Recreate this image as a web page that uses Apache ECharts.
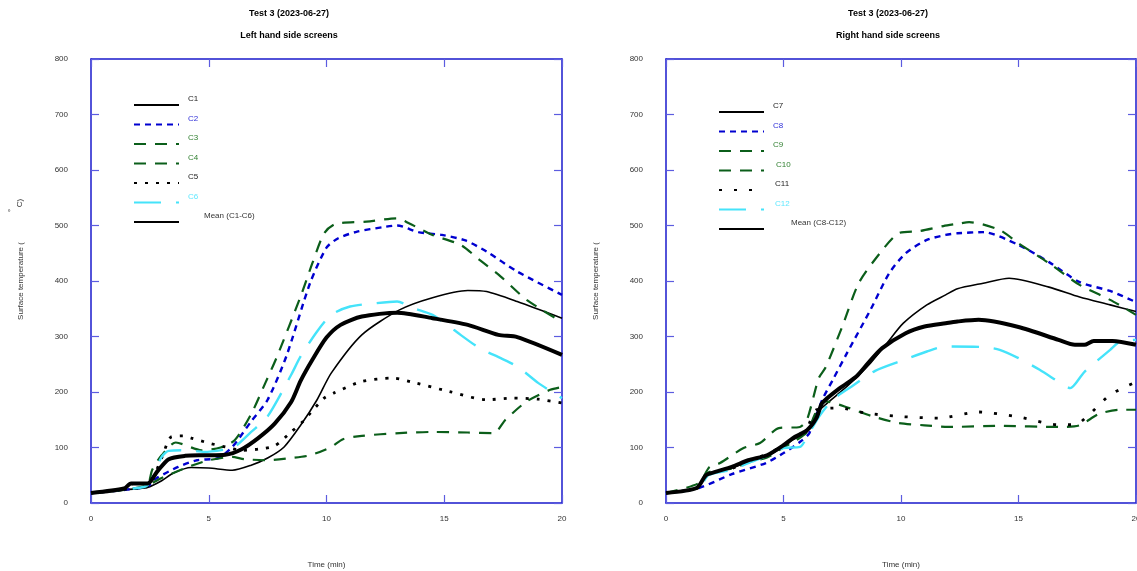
<!DOCTYPE html>
<html>
<head>
<meta charset="utf-8">
<script src="https://cdn.jsdelivr.net/npm/echarts@6/dist/echarts.min.js"></script>
<style>
  html, body { margin: 0; padding: 0; background: #fff; }
  #main { width: 1137px; height: 571px; }
</style>
</head>
<body>
<div id="main"></div>
<script>
// [time (min), temperature] pairs
const c1 = [[0,18],[1,21],[1.5,24],[2.4,28],[3,40],[3.5,54],[4.25,64],[5,63],[6,59],[6.8,68],[7.5,81],[8.2,101],[8.9,140],[9.6,186],[10.2,234],[11.5,303],[13.1,348],[14.5,370],[16,383],[16.8,381],[18.1,363],[20,333]]
const c2 = [[0,18],[1.5,24],[2.4,30],[2.8,45],[3.7,65],[4.5,77],[5.4,81],[6,101],[6.8,147],[7.5,186],[8.3,265],[9.3,396],[10,460],[10.5,477],[11.3,489],[12.4,497],[13,500],[13.9,488],[14.9,483],[15.9,473],[16.8,453],[18.1,417],[20,375]]
const c3 = [[0,18],[1.5,26],[1.8,35],[2.4,35],[2.6,60],[3,86],[3.6,109],[4.7,95],[5.5,100],[6.1,113],[6.8,160],[7.4,216],[7.9,264],[8.9,372],[9.4,432],[9.9,486],[10.4,503],[11.7,507],[13,513],[13.5,504],[14.5,483],[15.7,465],[16.5,438],[17.4,408],[18.5,366],[20,326]]
const c4 = [[0,18],[1.5,24],[2.4,32],[3,45],[4.25,67],[5,77],[6,83],[6.5,79],[7.5,77],[8.5,81],[9.3,86],[10.2,101],[10.7,115],[11.5,121],[13.1,126],[14.5,128],[16,127],[17.1,126],[17.6,150],[18.5,183],[19.5,204],[20,209]]
const c5 = [[0,18],[1.5,25],[2.4,30],[3,81],[3.4,119],[3.9,121],[4.25,117],[5,108],[5.7,101],[6.4,95],[7.1,97],[7.8,103],[8.5,128],[9,147],[9.9,189],[10.3,198],[11.5,219],[12.8,225],[13.8,216],[15.2,201],[16.8,186],[17.9,189],[19,187],[20,180]]
const c6 = [[0,18],[1.5,25],[2.4,32],[3,83],[3.3,94],[4.1,95],[4.8,92],[5.8,97],[6.1,101],[6.8,128],[7.5,156],[8.5,231],[8.9,264],[9.6,309],[10.2,339],[11,354],[12.1,360],[13,363],[13.7,351],[14.5,339],[15.4,312],[16.5,279],[17.4,261],[18.1,246],[19,216],[20,189]]
const meanLeft = [[0,18],[1.4,26],[1.7,35],[2.4,35],[2.8,56],[3.3,79],[4,85],[4.8,86],[5.7,87],[6.4,97],[7.1,117],[7.8,143],[8.5,182],[8.9,220],[9.4,258],[10,298],[10.6,321],[11.5,336],[13,343],[14.5,333],[16,321],[17.3,303],[18.1,299],[20,267]]

const c7 = [[0,18],[1.3,26],[1.7,48],[2.1,55],[2.8,63],[3.5,75],[4.3,84],[5,102],[5.4,114],[6,128],[6.4,162],[7.7,210],[8.7,252],[9.4,288],[10.1,324],[11.1,357],[11.9,375],[12.4,386],[13.5,396],[14.6,405],[16.3,389],[17.6,371],[18.9,357],[20,345]]
const c8 = [[0,18],[1.4,27],[2.8,52],[4.25,72],[5,90],[5.7,110],[6.1,126],[6.65,186],[7.1,222],[7.7,270],[8.7,348],[9.5,414],[10.2,450],[11.1,474],[11.9,483],[12.4,486],[13.5,488],[15,465],[16.3,434],[17.6,398],[18.9,382],[20,362]]
const c9 = [[0,18],[1.4,36],[1.85,65],[2.3,72],[3.3,99],[4,108],[4.8,135],[5.7,137],[6,150],[6.5,225],[6.8,245],[7.5,318],[8.2,396],[9.1,450],[9.9,486],[10.8,490],[11.8,499],[12.4,503],[12.9,506],[14.2,492],[15,468],[16.3,432],[17.6,393],[18.9,366],[20,339]]
const c10 = [[0,18],[1.4,28],[1.8,55],[2.8,62],[3.5,73],[4.3,82],[5,100],[5.5,112],[6,128],[6.4,165],[6.8,183],[7.8,171],[8.8,156],[9.9,144],[11,140],[12,137],[14.2,139],[16.7,137],[17.6,140],[18.4,160],[19.3,168],[20,168]]
const c11 = [[0,18],[1.4,28],[1.8,52],[2.8,62],[3.5,76],[4.3,88],[5,104],[5.5,118],[6,135],[6.4,168],[7.4,171],[8.5,162],[9.9,156],[11.6,153],[13.3,164],[15,155],[16.7,141],[17.4,141],[18,159],[18.9,195],[20,218]]
const c12 = [[0,18],[1.4,27],[1.8,50],[2.8,60],[3.5,72],[4.3,85],[5,99],[5.7,101],[6,119],[6.5,155],[7.1,186],[7.9,210],[8.9,238],[10,256],[11.1,273],[11.9,282],[13.5,281],[14.2,276],[15,261],[15.9,240],[16.9,213],[17.2,207],[17.8,236],[18.9,276],[19.3,290],[20,294]]
const meanRight = [[0,18],[1.3,27],[1.7,50],[2.1,56],[2.8,65],[3.5,77],[4.3,86],[5,104],[5.4,117],[6,131],[6.4,153],[6.65,180],[7.4,207],[8.1,228],[8.6,252],[9.2,279],[10.2,306],[11,318],[11.9,324],[12.4,327],[13.3,330],[15,317],[16.7,294],[17.4,285],[17.8,285],[18.2,292],[19,292],[20,285]]

const FONT = 'Liberation Sans, Arial, sans-serif'
const BLUE = '#0000d0'
const GREEN = '#0b5e1a'
const CYAN = '#45e3fa'
const AXIS = '#1a1acc'

const styles = {
  solid: { color: '#000', width: 1.6, type: 'solid' },
  blue: { color: BLUE, width: 2.4, type: [6, 5] },
  green: { color: GREEN, width: 2.2, type: [12, 9] },
  dots: { color: '#000', width: 2.8, type: [3, 8] },
  sparse: { color: '#000', width: 2.8, type: [3, 12] },
  cyan: { color: CYAN, width: 2.4, type: [27, 15] },
  mean: { color: '#000', width: 4, type: 'solid' }
}

function line(name, data, axis, style) {
  return {
    name: name,
    type: 'line',
    xAxisIndex: axis,
    yAxisIndex: axis,
    data: data,
    symbol: 'none',
    smooth: 0.25,
    animation: false,
    color: style.color,
    lineStyle: { color: style.color, width: style.width, type: style.type, cap: 'butt' },
    z: style === styles.mean ? 3 : 2
  }
}

function xAx(grid, pos, labels) {
  return {
    type: 'value', gridIndex: grid, position: pos, min: 0, max: 20, interval: 5,
    axisLine: { show: true, onZero: false, lineStyle: { color: AXIS, width: 1.5 } },
    axisTick: { show: true, inside: true, length: 8, lineStyle: { color: '#5c5ce0', width: 1.2 } },
    axisLabel: { show: labels, color: '#333', fontSize: 8, fontFamily: FONT, margin: 12 },
    splitLine: { show: false },
    name: labels ? 'Time (min)' : '', nameLocation: 'middle', nameGap: 58,
    nameTextStyle: { color: '#333', fontSize: 8, fontFamily: FONT }
  }
}

function yAx(grid, pos, labels) {
  return {
    type: 'value', gridIndex: grid, position: pos, min: 0, max: 800, interval: 100,
    axisLine: { show: true, onZero: false, lineStyle: { color: AXIS, width: 1.5 } },
    axisTick: { show: true, inside: true, length: 8, lineStyle: { color: '#5c5ce0', width: 1.2 } },
    axisLabel: { show: labels, color: '#333', fontSize: 8, fontFamily: FONT, margin: 23 },
    splitLine: { show: false },
    name: labels ? 'Surface temperature (' : '', nameLocation: 'middle', nameGap: 66, nameRotate: 90,
    nameTextStyle: { color: '#333', fontSize: 8, fontFamily: FONT }
  }
}

function legendItem(name, color, padLeft) {
  return { name: name, textStyle: { color: color, padding: [0, 0, 0, padLeft] } }
}

// label sits a little above its line sample, as in the original
function legend(left, top, items) {
  return {
    orient: 'vertical', left: left, top: top, padding: 0,
    itemWidth: 45, itemHeight: 14, itemGap: -0.5,
    itemStyle: { opacity: 0 },
    formatter: (name) => '{a|' + name + '}\n{a| }',
    textStyle: { fontSize: 8, fontFamily: FONT, rich: { a: { fontSize: 8, fontFamily: FONT, lineHeight: 12 } } },
    data: items
  }
}

const leftLegend = legend(133, 95, [
  legendItem('C1', '#222', 4),
  legendItem('C2', '#3030d8', 4),
  legendItem('C3', '#2f7f2f', 4),
  legendItem('C4', '#2f7f2f', 4),
  legendItem('C5', '#222', 4),
  legendItem('C6', '#62e8ff', 4),
  legendItem('Mean (C1-C6)', '#333', 20)
])
const rightLegend = legend(718, 102, [
  legendItem('C7', '#222', 4),
  legendItem('C8', '#3030d8', 4),
  legendItem('C9', '#2f7f2f', 4),
  legendItem('C10', '#2f7f2f', 7),
  legendItem('C11', '#222', 6),
  legendItem('C12', '#62e8ff', 6),
  legendItem('Mean (C8-C12)', '#333', 22)
])

const titleStyle = { fontSize: 9, fontWeight: 'bold', color: '#000', fontFamily: FONT }

const option = {
  backgroundColor: '#fff',
  animation: false,
  title: [
    { text: 'Test 3 (2023-06-27)', subtext: 'Left hand side screens', left: 289, top: 9, padding: 0,
      textAlign: 'center', itemGap: 13, textStyle: titleStyle, subtextStyle: titleStyle },
    { text: 'Test 3 (2023-06-27)', subtext: 'Right hand side screens', left: 888, top: 9, padding: 0,
      textAlign: 'center', itemGap: 13, textStyle: titleStyle, subtextStyle: titleStyle }
  ],
  legend: [leftLegend, rightLegend],
  grid: [
    { left: 91, top: 59, width: 471, height: 444, outerBoundsMode: 'none', containLabel: false },
    { left: 666, top: 59, width: 470, height: 444, outerBoundsMode: 'none', containLabel: false }
  ],
  xAxis: [xAx(0, 'bottom', true), xAx(0, 'top', false), xAx(1, 'bottom', true), xAx(1, 'top', false)],
  yAxis: [yAx(0, 'left', true), yAx(0, 'right', false), yAx(1, 'left', true), yAx(1, 'right', false)],
  graphic: [
    { type: 'text', x: 20, y: 203, rotation: Math.PI / 2, style: { text: 'C)', fill: '#333', font: '8px ' + FONT, textAlign: 'center', textVerticalAlign: 'middle' } },
    { type: 'text', x: 9, y: 213, style: { text: '°', fill: '#333', font: '8px ' + FONT, textAlign: 'center', textVerticalAlign: 'middle' } }
  ],
  series: [
    line('C1', c1, 0, styles.solid),
    line('C2', c2, 0, styles.blue),
    line('C3', c3, 0, styles.green),
    line('C4', c4, 0, styles.green),
    line('C5', c5, 0, styles.dots),
    line('C6', c6, 0, styles.cyan),
    line('Mean (C1-C6)', meanLeft, 0, styles.mean),
    line('C7', c7, 2, styles.solid),
    line('C8', c8, 2, styles.blue),
    line('C9', c9, 2, styles.green),
    line('C10', c10, 2, styles.green),
    line('C11', c11, 2, styles.sparse),
    line('C12', c12, 2, styles.cyan),
    line('Mean (C8-C12)', meanRight, 2, styles.mean)
  ]
}

const myChart = echarts.init(document.getElementById('main'))
myChart.setOption(option)
</script>
</body>
</html>
